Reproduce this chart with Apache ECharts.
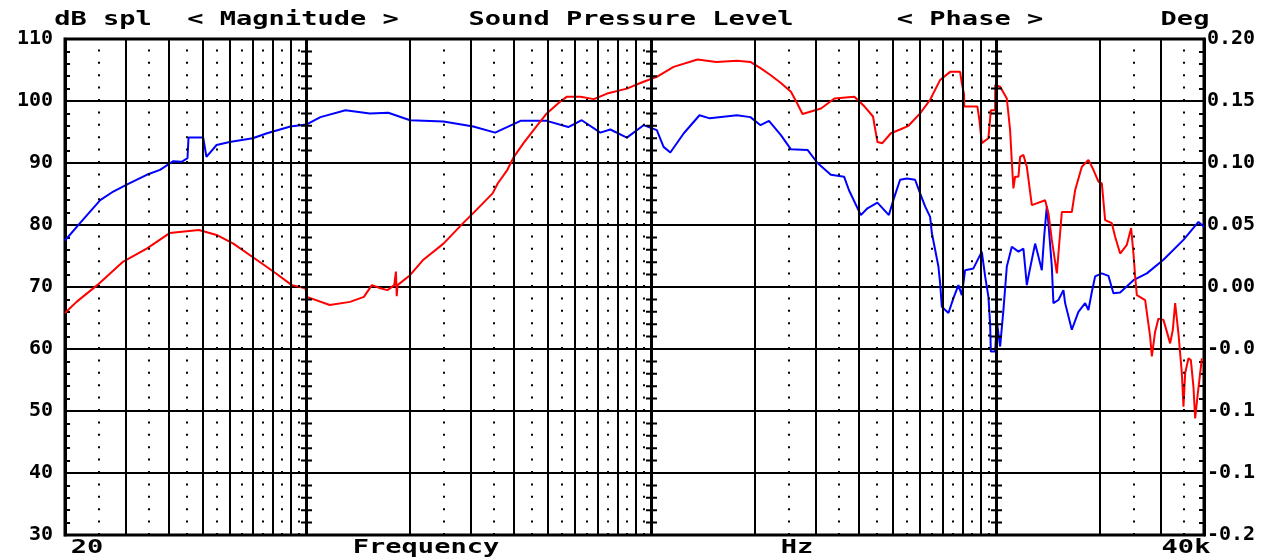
<!DOCTYPE html>
<html>
<head>
<meta charset="UTF-8">
<title>Sound Pressure Level</title>
<script src="https://cdn.jsdelivr.net/npm/echarts@6/dist/echarts.min.js"></script>
<style>
  body { margin: 0; padding: 0; background: #ffffff; }
  #app { width: 1285px; height: 557px; }
</style>
</head>
<body>
<div id="app"></div>
<script>
var FONT_FAMILY = '"DejaVu Sans Mono", monospace';

// magnitude curve (blue), Hz / dB
var blueFreq = [20, 22.1, 25.3, 27.6, 30.2, 34.5, 37.7, 41.2, 43.6, 45.3, 45.6, 50.3, 51.4, 55, 60, 70, 77, 90, 100, 110,
  130, 153, 173, 200, 250, 305, 353, 418, 498, 575, 629, 712, 761, 850, 950, 1038, 1086, 1136, 1243, 1380,
  1478, 1772, 1938, 2074, 2194, 2376, 2541, 2838, 3034, 3316, 3622, 3743, 4050, 4234, 4524, 4884, 5050, 5264, 5506, 5818,
  6016, 6220, 6432, 6506, 6650, 6798, 6876, 6954, 7268, 7514, 7768, 7944, 8122, 8586, 9080, 9284, 9490, 9598, 9644, 9924,
  10038, 10146, 10262, 10380, 10490, 10730, 11094, 11594, 11986, 12124, 12262, 12394, 12678, 12960, 13250, 13554, 13764, 14014, 14164, 14488,
  14644, 15142, 15656, 15834, 16558, 17302, 18094, 18498, 18922, 19342, 20228, 21138, 21856, 22856, 24980, 27316, 30514, 34874, 38548, 40000];
var blueDb = [77.5, 80.3, 84.0, 85.4, 86.5, 88.1, 88.9, 90.3, 90.2, 90.8, 94.1, 94.1, 91.0, 92.9, 93.4, 94.0, 94.8, 95.9, 96.2, 97.4,
  98.5, 98.0, 98.1, 96.9, 96.7, 95.9, 94.9, 96.8, 96.8, 95.8, 96.9, 94.9, 95.4, 94.1, 96.1, 95.3, 92.6, 91.7, 94.8, 97.7,
  97.2, 97.7, 97.4, 96.1, 96.8, 94.5, 92.2, 92.1, 90.0, 88.1, 87.8, 85.6, 81.6, 82.7, 83.6, 81.6, 84.3, 87.3, 87.5, 87.3,
  85.1, 83.0, 81.3, 78.7, 76.0, 73.3, 70.6, 66.8, 65.8, 68.2, 70.3, 68.7, 72.7, 73.0, 75.7, 71.7, 68.4, 64.1, 59.6, 59.6,
  64.4, 64.4, 60.4, 60.4, 66.3, 73.3, 76.5, 75.7, 76.2, 73.3, 70.3, 71.7, 74.4, 77.0, 74.9, 72.7, 78.1, 83.0, 80.3, 73.3,
  67.4, 67.9, 69.5, 67.4, 63.1, 66.0, 67.4, 66.3, 69.2, 71.7, 72.2, 71.8, 69.0, 69.1, 71.1, 72.2, 74.4, 77.6, 80.5, 79.7];

// phase curve (red), drawn against the dB scale as in the source
var redFreq = [20, 21.6, 24.8, 29.5, 34.5, 40.2, 48.9, 55, 61.5, 71.8, 80.3, 90.9, 99.5, 100.5, 117, 134, 147, 155, 164, 172,
  180, 182, 183, 184, 200, 218.6, 250, 285, 311, 347, 359, 383, 400, 426.5, 456, 498, 545, 570, 624, 681.6,
  745, 850, 950, 1038, 1161, 1362, 1545, 1772, 1938, 2074, 2216, 2376, 2541, 2650, 2745, 3105, 3395, 3880, 4153, 4393,
  4524, 4676, 4950, 5264, 5565, 6016, 6432, 6876, 7350, 7856, 7944, 8068, 8075, 8818, 8936, 9080, 9490, 9644, 9924, 9930,
  10262, 10730, 10968, 11094, 11212, 11340, 11594, 11726, 11986, 12262, 12678, 13856, 14164, 14488, 14982, 15142, 15490, 16558, 16926, 17700,
  18498, 19124, 19774, 20228, 20678, 21624, 22106, 22856, 23900, 24596, 24980, 25266, 25552, 27008, 27924, 28242, 28870, 29514, 30514, 31214,
  31910, 32490, 32994, 33730, 34504, 34874, 35272, 36058, 36640, 37282, 37708, 38290, 38988, 39432];
var redDb = [65.8, 67.6, 70.3, 74.1, 76.2, 78.7, 79.2, 78.4, 77.0, 74.4, 72.5, 70.3, 69.8, 68.4, 67.1, 67.6, 68.4, 70.3, 69.8, 69.5,
  70.3, 72.5, 68.5, 70.3, 71.9, 74.4, 77.0, 80.3, 82.4, 85.1, 86.7, 88.9, 91.0, 93.2, 95.3, 98.0, 99.9, 100.7, 100.7, 100.3,
  101.2, 102.0, 103.1, 103.9, 105.5, 106.7, 106.3, 106.5, 106.3, 105.3, 104.2, 102.9, 101.5, 99.6, 97.9, 98.8, 100.4, 100.7, 99.1, 97.5,
  93.4, 93.2, 94.8, 95.4, 96.0, 98.0, 100.2, 103.4, 104.7, 104.7, 102.9, 101.0, 99.1, 99.1, 96.9, 93.2, 94.0, 98.5, 98.5, 102.6,
  102.3, 100.4, 95.3, 90.2, 85.9, 87.8, 87.8, 91.0, 91.3, 89.4, 83.2, 84.0, 81.9, 77.6, 72.2, 75.4, 82.1, 82.1, 85.6, 89.4,
  90.5, 88.9, 87.0, 86.7, 80.8, 80.3, 78.1, 75.4, 76.8, 79.5, 75.4, 71.7, 68.7, 67.9, 62.0, 58.8, 62.8, 64.9, 64.7, 62.8,
  60.9, 63.1, 67.4, 62.5, 56.1, 50.7, 56.1, 58.5, 58.2, 53.9, 48.8, 52.3, 56.1, 58.5];

// vertical grid positions (Hz)
var decadeLines = [100, 1000, 10000];
var solidLines = [30, 40, 50, 60, 70, 80, 90, 200, 300, 400, 500, 600, 700, 800, 900,
  2000, 3000, 4000, 5000, 6000, 7000, 8000, 9000, 20000, 30000];
var dotLines = [25, 35, 45, 55, 65, 75, 85, 95, 250, 350, 450, 550, 650, 750, 850, 950,
  2500, 3500, 4500, 5500, 6500, 7500, 8500, 9500, 25000, 35000];

var titleTexts = [
  ['dB spl', 103],
  ['< Magnitude >', 293],
  ['Sound Pressure Level', 631],
  ['< Phase >', 970],
  ['Deg', 1185]
];
var bottomTexts = [
  ['20', 87],
  ['Frequency', 426],
  ['Hz', 797],
  ['40k', 1186]
];

function pairs(xs, ys) {
  return xs.map(function (x, i) { return [x, ys[i]]; });
}

function vLines(list) {
  return list.map(function (v) { return { xAxis: v }; });
}

function gridSeries(list, style) {
  return {
    type: 'line',
    data: [],
    z: 1,
    silent: true,
    markLine: {
      silent: true,
      symbol: ['none', 'none'],
      label: { show: false },
      emphasis: { disabled: true },
      animation: false,
      lineStyle: style,
      data: vLines(list)
    }
  };
}

// the source uses a wide bitmap font, so stretch the text a little
function textEl(t, x, y) {
  return {
    type: 'text',
    x: x,
    y: y,
    scaleX: 1.35,
    silent: true,
    style: {
      text: t,
      font: 'bold 20px ' + FONT_FAMILY,
      fill: '#000',
      align: 'center',
      verticalAlign: 'middle',
      textAlign: 'center',
      textVerticalAlign: 'middle'
    }
  };
}

var chart = echarts.init(document.getElementById('app'), null, { renderer: 'canvas' });

var graphics = [];
titleTexts.forEach(function (t) { graphics.push(textEl(t[0], t[1], 20)); });
bottomTexts.forEach(function (t) { graphics.push(textEl(t[0], t[1], 548)); });

var option = {
  backgroundColor: '#ffffff',
  animation: false,
  grid: {
    left: 65, right: 81, top: 39, bottom: 22,
    show: true, borderColor: '#000', borderWidth: 3, backgroundColor: 'transparent'
  },
  xAxis: {
    type: 'log',
    logBase: 10,
    min: 20,
    max: 40000,
    axisLine: { show: false },
    axisTick: { show: false },
    axisLabel: { show: false },
    splitLine: { show: false }
  },
  yAxis: [
    {
      type: 'value',
      min: 30,
      max: 110,
      interval: 10,
      position: 'left',
      axisLine: { show: true, lineStyle: { color: '#000', width: 3 } },
      axisTick: { show: true, inside: true, length: 5, lineStyle: { color: '#000', width: 2 } },
      minorTick: { show: true, splitNumber: 5, length: 5, lineStyle: { color: '#000', width: 2 } },
      axisLabel: {
        margin: 12,
        color: '#000',
        fontFamily: FONT_FAMILY,
        fontWeight: 'bold',
        fontSize: 20
      },
      splitLine: { show: true, lineStyle: { color: '#000', width: 2 } }
    },
    {
      type: 'value',
      min: -0.2,
      max: 0.2,
      interval: 0.05,
      position: 'right',
      axisLine: { show: true, lineStyle: { color: '#000', width: 3 } },
      axisTick: { show: true, inside: true, length: 5, lineStyle: { color: '#000', width: 2 } },
      minorTick: { show: true, splitNumber: 5, length: 5, lineStyle: { color: '#000', width: 2 } },
      axisLabel: {
        margin: 3,
        color: '#000',
        fontFamily: FONT_FAMILY,
        fontWeight: 'bold',
        fontSize: 20,
        formatter: function (v) { return v.toFixed(2).slice(0, 4); }
      },
      splitLine: { show: false }
    }
  ],
  graphic: graphics,
  series: [
    gridSeries(solidLines, { color: '#000', width: 2, type: 'solid' }),
    gridSeries(dotLines, { color: '#000', width: 2, type: [2, 10.4] }),
    gridSeries(decadeLines, { color: '#000', width: 3, type: 'solid' }),
    gridSeries(decadeLines, { color: '#000', width: 11, type: [2, 10.4], dashOffset: 1 }),
    {
      name: 'Magnitude',
      type: 'line',
      z: 3,
      data: pairs(blueFreq, blueDb),
      showSymbol: false,
      smooth: false,
      lineStyle: { color: '#0000ff', width: 2 },
      itemStyle: { color: '#0000ff' }
    },
    {
      name: 'Phase',
      type: 'line',
      z: 3,
      data: pairs(redFreq, redDb),
      showSymbol: false,
      smooth: false,
      lineStyle: { color: '#ff0000', width: 2 },
      itemStyle: { color: '#ff0000' }
    }
  ]
};

chart.setOption(option);
</script>
</body>
</html>
